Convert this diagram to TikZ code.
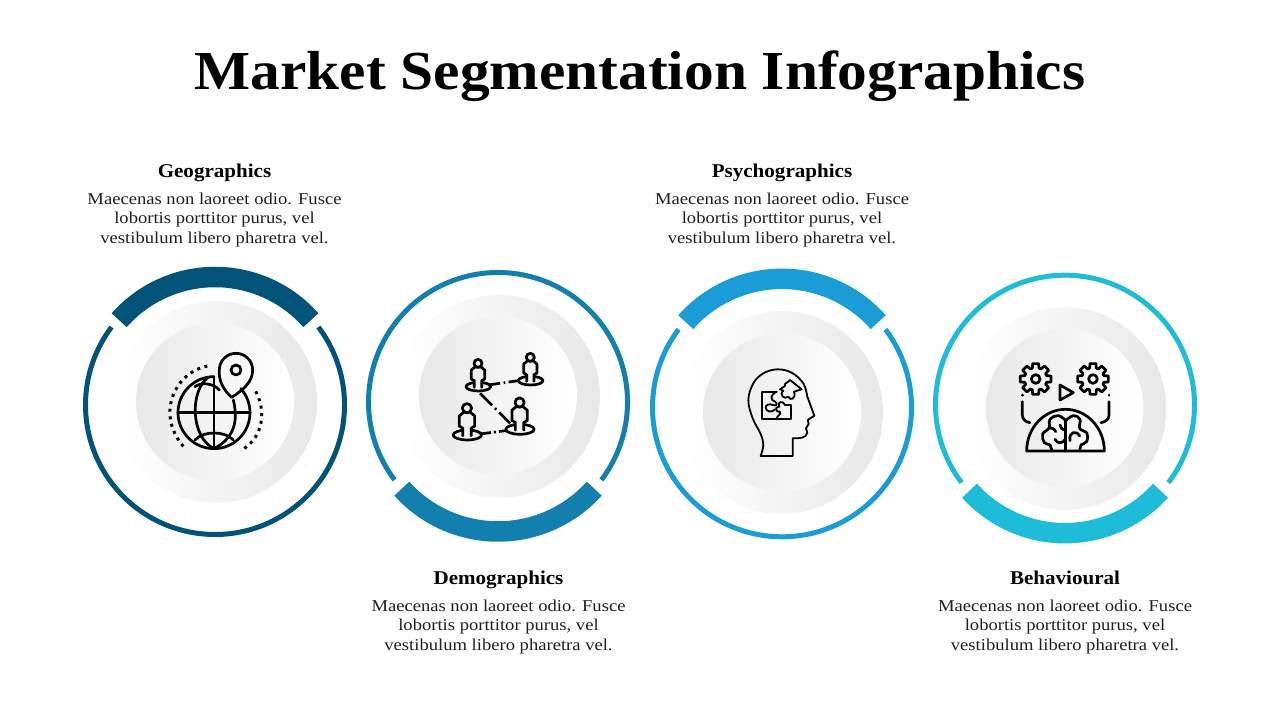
\documentclass[tikz,border=0pt]{standalone}
\usepackage{fontspec}
\setmainfont{Liberation Serif}
\newfontfamily\bodyserif[FakeStretch=1.12]{Liberation Serif}
\newfontfamily\headserif[FakeStretch=1.08]{Liberation Serif Bold}
\definecolor{geoblue}{HTML}{015478}
\definecolor{demoblue}{HTML}{127FAF}
\definecolor{psychblue}{HTML}{1A9CD6}
\definecolor{behavblue}{HTML}{1FBCD9}
\tikzset{
	ringline/.style={line width=5pt},
	bandline/.style={line width=20.5pt},
	outerdisc/.style={left color=white,right color=black!9,draw=none},
	innerdisc/.style={left color=black!9,right color=white,draw=none},
	titletext/.style={font=\headserif\fontsize{55}{60}\selectfont,anchor=base},
	headtext/.style={font=\headserif\fontsize{19.5}{24}\selectfont,anchor=base},
	bodytext/.style={font=\bodyserif\fontsize{16.6}{19.5}\selectfont,align=center,text=black!88},
	iconline/.style={line width=2.7pt,line cap=round,line join=round},
	thinline/.style={line width=1.8pt,line cap=round,line join=round},
	dotline/.style={line width=3pt,dash pattern=on 3pt off 4.6pt},
	zoomed/.style={x=0.3333pt,y=-0.3333pt}
}
\def\gearmark(#1,#2){\draw[iconline,shift={(#1,#2)}] (-11:47) \foreach \a in {0,45,...,315} {-- (\a-11:47) -- (\a+11:47) -- (\a+17:34) -- (\a+28:34)} -- cycle (0,0) circle (13);}
\def\personmark(#1,#2)#3{\begin{scope}[shift={(#1,#2)},scale=#3]
		\draw[iconline] (0,0) ellipse (37 and 13);
		\draw[iconline,fill=black!6] (-12,2) -- (-12,-18) -- (-21,-23) -- (-21,-50) -- (-10,-59) -- (8,-59) -- (19,-50) -- (19,-23) -- (10,-18) -- (10,2);
		\draw[iconline,fill=black!6] (-1,-70) circle (12);
	\end{scope}}

\begin{document}
\begin{tikzpicture}[x=1pt,y=1pt]
		\useasboundingbox (0,0) rectangle (1280,720);
		%%%%% TITLE %%%%%
		\node[titletext] (title) at (640,630) {Market Segmentation Infographics};
		
		%%%%% GEOGRAPHICS %%%%%
		\draw[outerdisc] (216,318) circle (101);
		\draw[innerdisc] (215,318) circle (79);
		\draw[ringline,geoblue] ([shift={(37:129.5)}]215,315) arc (37:-217:129.5);
		\draw[bandline,geoblue] ([shift={(41.5:128)}]215,315) arc (41.5:138.5:128);
		\node[headtext] (geohead) at (214.5,542.5) {Geographics};
		\node[bodytext] (geobody) at (214.5,500) {Maecenas non laoreet odio. Fusce\\lobortis porttitor purus, vel\\vestibulum libero pharetra vel.};
		
		%%%%% DEMOGRAPHICS %%%%%
		\draw[outerdisc] (498.5,323.7) circle (101.5);
		\draw[innerdisc] (498,324.5) circle (79);
		\draw[ringline,demoblue] ([shift={(-37:129.5)}]498,318) arc (-37:217:129.5);
		\draw[bandline,demoblue] ([shift={(-42:129.5)}]498,318) arc (-42:-138:129.5);
		\node[headtext] (demohead) at (498.5,135.5) {Demographics};
		\node[bodytext] (demobody) at (498.5,93) {Maecenas non laoreet odio. Fusce\\lobortis porttitor purus, vel\\vestibulum libero pharetra vel.};
		
		%%%%% PSYCHOGRAPHICS %%%%%
		\draw[outerdisc] (781.5,307.5) circle (101.5);
		\draw[innerdisc] (782,307.5) circle (79);
		\draw[ringline,psychblue] ([shift={(37:129.5)}]782,312.7) arc (37:-217:129.5);
		\draw[bandline,psychblue] ([shift={(41.5:128.5)}]782,312.7) arc (41.5:138.5:128.5);
		\node[headtext] (psychhead) at (782,542.5) {Psychographics};
		\node[bodytext] (psychbody) at (782,500) {Maecenas non laoreet odio. Fusce\\lobortis porttitor purus, vel\\vestibulum libero pharetra vel.};
		
		%%%%% BEHAVIOURAL %%%%%
		\draw[outerdisc] (1065,311.3) circle (101.3);
		\draw[innerdisc] (1064.7,312) circle (78.7);
		\draw[ringline,behavblue] ([shift={(-37:129.5)}]1065,315.3) arc (-37:217:129.5);
		\draw[bandline,behavblue] ([shift={(-42:128.5)}]1065,315.3) arc (-42:-138:128.5);
		\node[headtext] (behavhead) at (1065,135.5) {Behavioural};
		\node[bodytext] (behavbody) at (1065,93) {Maecenas non laoreet odio. Fusce\\lobortis porttitor purus, vel\\vestibulum libero pharetra vel.};
		
		%%%%% GLOBE ICON %%%%%
		\begin{scope}[shift={(150,380)},zoomed]
			\draw[iconline] (192,110) arc (-90:-360-42:108);
			\draw[iconline] (192,110) -- (192,326);
			\draw[iconline] (84,218) -- (300,218);
			\draw[iconline] (175,112) .. controls (120,150) and (120,290) .. (192,326);
			\draw[iconline] (192,326) .. controls (262,290) and (262,230) .. (250,180);
			\draw[iconline] (135,140) .. controls (155,125) and (190,130) .. (208,150);
			\draw[iconline] (135,300) .. controls (160,272) and (225,272) .. (250,300);
			\draw[iconline] (245,172) .. controls (220,150) and (205,120) .. (208,90) arc (180:360:50) .. controls (308,125) and (280,150) .. (245,172);
			\draw[iconline] (258,90) circle (15);
			\draw[dotline] (172,78) .. controls (80,95) and (10,220) .. (105,325);
			\draw[dotline] (283,325) .. controls (338,290) and (352,210) .. (313,147);
		\end{scope}
		
		%%%%% PEOPLE ICON %%%%%
		\begin{scope}[shift={(435,380)},zoomed]
			\draw[iconline,line cap=butt,dash pattern=on 12pt off 3.5pt on 1.5pt off 3.5pt on 20pt] (160,135) -- (250,122);
			\draw[iconline,line cap=butt,dash pattern=on 17pt off 4pt on 2pt off 4pt on 30pt] (135,160) -- (225,250);
			\draw[iconline,line cap=butt,dash pattern=on 11pt off 3pt on 2pt off 3pt on 20pt] (135,282) -- (212,272);
			\personmark(130,140){1}
			\personmark(287,122){1}
			\personmark(97,285){1.15}
			\personmark(255,268){1.15}
		\end{scope}
		
		%%%%% HEAD ICON %%%%%
		\begin{scope}[shift={(720,370)},zoomed]
			\draw[thinline] plot[smooth,tension=0.6] coordinates {(122,318) (130,285) (122,252) (98,205) (85,150) (100,100) (130,70) (172,58) (215,68) (250,100) (262,140)} -- (283,197) -- (263,210) -- (266,222) -- (258,235) -- (262,248) .. controls (258,265) and (240,265) .. (218,265) -- (218,318) -- cycle;
			\draw[thinline] (170,125) -- (125,125) -- (125,208) -- (212,208) -- (212,165) -- (195,165);
			\draw[thinline] (170,125) .. controls (150,135) and (150,150) .. (165,155) .. controls (175,160) and (170,170) .. (158,165) .. controls (150,160) and (135,165) .. (137,172) .. controls (137,185) and (155,190) .. (165,178);
			\draw[thinline] (195,165) .. controls (190,150) and (170,155) .. (178,170) .. controls (160,170) and (170,190) .. (180,185) .. controls (185,195) and (170,195) .. (170,208);
			\draw[thinline] (210,90) -- (245,118) -- (222,125) .. controls (230,145) and (210,155) .. (205,140) .. controls (195,150) and (175,135) .. (190,122) -- (180,118) -- (195,108) .. controls (190,100) and (205,98) .. (210,90);
		\end{scope}
		
		%%%%% BRAIN ICON %%%%%
		\begin{scope}[shift={(1005,370)},zoomed]
			\gearmark(92,87)
			\gearmark(264,87)
			\draw[iconline] (165,105) -- (205,128) -- (165,150) -- cycle;
			\draw[iconline] (52,135) -- (52,136);
			\draw[iconline] (312,135) -- (312,136);
			\draw[iconline] (52,155) -- (52,195) .. controls (52,208) and (62,216) .. (75,218);
			\draw[iconline] (312,155) -- (312,195) .. controls (312,208) and (302,216) .. (288,218);
			\draw[iconline] (65,303) arc (180:360:116.5 and 125) -- cycle;
			\draw[iconline] (182,212) -- (182,303);
			\draw[iconline] plot[smooth,tension=0.7] coordinates {(182,212) (160,197) (135,208) (132,235) (113,252) (118,278) (135,285) (140,303)};
			\draw[iconline] plot[smooth,tension=0.7] coordinates {(182,212) (205,197) (225,208) (224,235) (246,250) (245,275) (228,285) (225,303)};
			\draw[iconline] (182,265) .. controls (172,285) and (155,280) .. (150,268);
			\draw[iconline] (195,272) .. controls (190,245) and (215,240) .. (224,258);
			\draw[iconline] (132,235) .. controls (140,232) and (150,238) .. (152,245);
			\draw[iconline] (182,240) .. controls (172,240) and (165,232) .. (165,225);
		\end{scope}
		%%%%% END %%%%%
	\end{tikzpicture}
\end{document}
